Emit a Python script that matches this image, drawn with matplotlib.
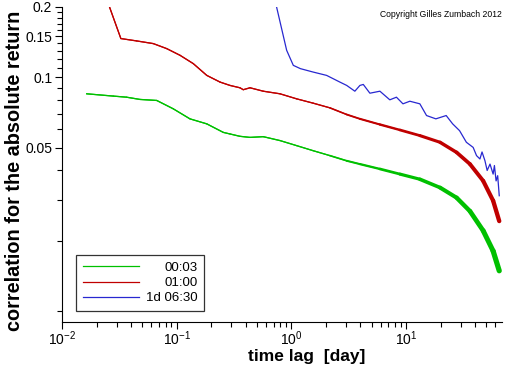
"""Autocorrelation of absolute returns vs time lag (log-log)."""
import numpy as np
import matplotlib
matplotlib.use("Agg")
import matplotlib.pyplot as plt
from matplotlib.collections import LineCollection
from matplotlib.ticker import FixedLocator, FixedFormatter, LogLocator, NullFormatter

plt.rcParams["font.family"] = ["Liberation Sans", "DejaVu Sans"]
plt.rcParams["mathtext.fontset"] = "custom"
plt.rcParams["mathtext.rm"] = "Liberation Sans"
plt.rcParams["mathtext.it"] = "Liberation Sans"

labels = ["00:03", "01:00", "1d 06:30"]
colors = ["#00c000", "#c00000", "#2828d0"]

# 00:03
lag_green = [0.0164, 0.028, 0.0366, 0.0479, 0.067, 0.0934, 0.1305, 0.183, 0.255,
             0.292, 0.356, 0.436, 0.569, 0.796, 1.11, 1.55, 2.17, 3.04, 3.96, 5.92,
             8.85, 13.2, 19.8, 27.6, 36.1, 47.1, 57.5, 65.0]
corr_green = [0.0851, 0.0832, 0.0823, 0.0805, 0.0797, 0.0734, 0.0665, 0.0633, 0.0582,
              0.0573, 0.0560, 0.0554, 0.0558, 0.0537, 0.0511, 0.0486, 0.0463, 0.0440,
              0.0426, 0.0406, 0.0386, 0.0367, 0.0338, 0.0306, 0.0268, 0.0221, 0.0181,
              0.0149]

# 01:00
lag_red = [0.0255, 0.0326, 0.0448, 0.0625, 0.0818, 0.107, 0.1397, 0.183, 0.239,
           0.292, 0.356, 0.381, 0.436, 0.569, 0.796, 1.11, 1.55, 2.17, 3.04, 3.96,
           5.92, 8.85, 13.2, 19.8, 27.6, 36.1, 47.1, 57.5, 65.0]
corr_red = [0.205, 0.1466, 0.1432, 0.1395, 0.1328, 0.1243, 0.1145, 0.102, 0.0955,
            0.0924, 0.0903, 0.0886, 0.0903, 0.0873, 0.0851, 0.0810, 0.0776, 0.0741,
            0.0694, 0.0665, 0.0629, 0.0596, 0.0564, 0.0528, 0.0478, 0.0426, 0.0361,
            0.0297, 0.0243]

# 1d 06:30
lag_blue = [0.72, 0.91, 1.04, 1.20, 1.55, 2.03, 2.65, 3.04, 3.58, 3.96, 4.24, 4.84,
            5.92, 7.22, 8.25, 9.4, 10.8, 13.2, 15.1, 18.2, 22.4, 25.5, 29.3, 33.6,
            38.5, 41.2, 44.1, 46.0, 48.8, 51.0, 54.0, 57.5, 59.0, 61.0, 63.0, 65.0]
corr_blue = [0.214, 0.1306, 0.1126, 0.109, 0.1054, 0.102, 0.0955, 0.0924, 0.0873,
             0.0924, 0.0933, 0.0856, 0.0873, 0.0802, 0.0823, 0.0771, 0.0791, 0.0771,
             0.0687, 0.0665, 0.0687, 0.0633, 0.0592, 0.0528, 0.0502, 0.0463, 0.0448,
             0.0480, 0.0440, 0.0400, 0.0426, 0.0386, 0.0420, 0.0361, 0.0380, 0.0312]

series = [(lag_green, corr_green), (lag_red, corr_red), (lag_blue, corr_blue)]
band_growth = [1.8, 1.4, 0.0]   # how fast the noise band widens (style only)

fig = plt.figure(figsize=(5.12, 3.66), dpi=100)
ax = fig.add_axes([62 / 512, 44 / 366, 440 / 512, 315 / 366])
ax.set_xscale("log")
ax.set_yscale("log")
ax.set_xlim(0.01, 68.7)
ax.set_ylim(0.009, 0.2)

handles = []
for (x, y), c, lab, g in zip(series, colors, labels, band_growth):
    h, = ax.plot(x, y, color=c, lw=0.9, label=lab)
    handles.append(h)
    if g > 0:
        # the noise band of the estimator thickens with the lag
        pts = np.column_stack([x, y])
        segs = np.stack([pts[:-1], pts[1:]], axis=1)
        lx = np.log10(np.asarray(x[:-1]))
        widths = np.clip(0.9 + g * (lx - 0.18), 0.9, 4.0)
        lc = LineCollection(segs, colors=c, linewidths=widths, capstyle="round")
        ax.add_collection(lc)

for side in ["top", "right"]:
    ax.spines[side].set_visible(False)
for side in ["left", "bottom"]:
    ax.spines[side].set_linewidth(0.8)

ax.xaxis.set_major_locator(LogLocator(base=10, numticks=10))
ax.xaxis.set_minor_locator(LogLocator(base=10, subs=np.arange(2, 10), numticks=10))
ax.xaxis.set_minor_formatter(NullFormatter())

ymaj = [0.05, 0.1, 0.15, 0.2]
ylab = ["0.05", "0.1", "0.15", "0.2"]
ymin = [0.01, 0.02, 0.03, 0.04, 0.06, 0.07, 0.08, 0.09,
        0.11, 0.12, 0.13, 0.14, 0.16, 0.17, 0.18, 0.19]
ax.yaxis.set_major_locator(FixedLocator(ymaj))
ax.yaxis.set_major_formatter(FixedFormatter(ylab))
ax.yaxis.set_minor_locator(FixedLocator(ymin))
ax.yaxis.set_minor_formatter(NullFormatter())

ax.tick_params(which="major", direction="out", length=5, width=0.8, labelsize=10,
               pad=2, colors="black")
ax.tick_params(axis="x", which="major", pad=0.5)
ax.tick_params(which="minor", direction="out", length=3.5, width=0.8)

ax.set_ylabel("correlation for the absolute return", fontsize=14.3, fontweight="bold")
ax.yaxis.set_label_coords(-0.086, 0.48)
ax.set_xlabel("time lag  [day]", fontsize=12.5, fontweight="bold")
ax.xaxis.set_label_coords(0.557, -0.086)

fig.text(0.980, 0.972, "Copyright Gilles Zumbach 2012", ha="right", va="top",
         fontsize=6.2)

leg = ax.legend(handles=handles, loc="lower left", bbox_to_anchor=(0.032, 0.035),
                borderaxespad=0, fancybox=False, frameon=True, fontsize=9.5,
                handlelength=4.3, handletextpad=0.5, labelspacing=0.22,
                borderpad=0.5)
leg.get_frame().set_edgecolor("black")
leg.get_frame().set_linewidth(0.9)

# right-align legend labels
fig.canvas.draw()
renderer = fig.canvas.get_renderer()
widths_txt = [t.get_window_extent(renderer).width for t in leg.get_texts()]
wmax = max(widths_txt)
for t, w in zip(leg.get_texts(), widths_txt):
    t.set_position((wmax - w, 0))

fig.savefig("out.png", dpi=100)
